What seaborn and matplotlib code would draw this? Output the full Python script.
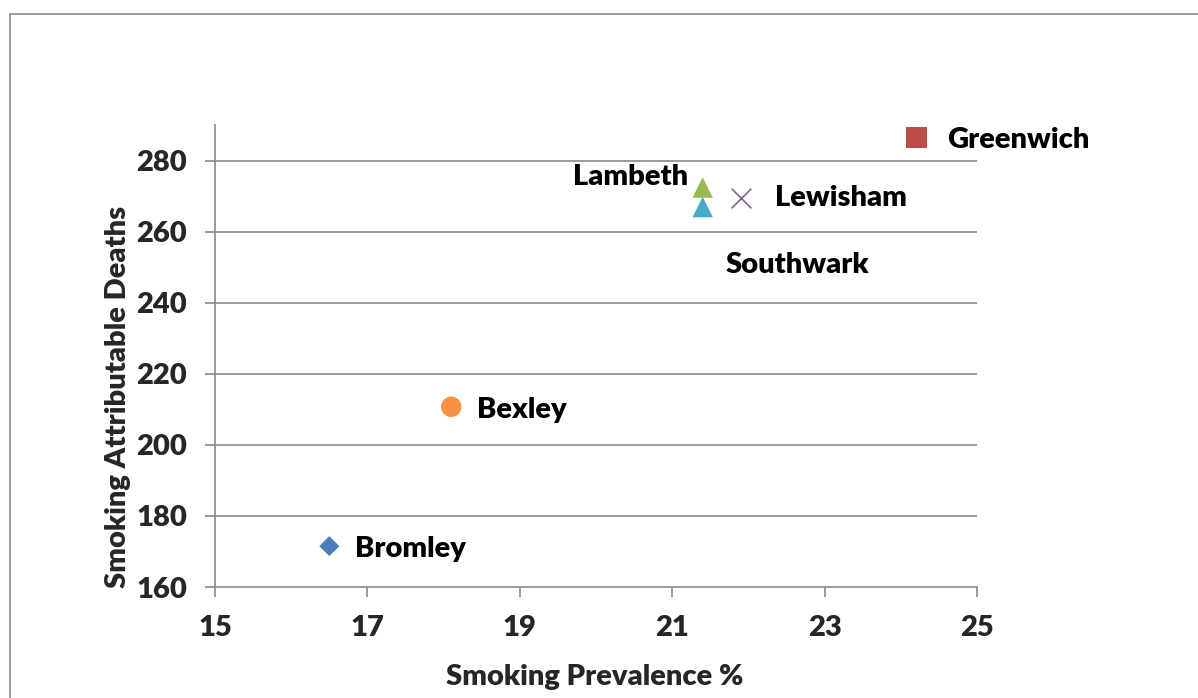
import matplotlib
matplotlib.use("Agg")
import matplotlib.pyplot as plt
from matplotlib.patches import Rectangle
import seaborn as sns
import pandas as pd

# Borough data
boroughs = ["Bromley", "Greenwich", "Lambeth", "Lewisham", "Southwark", "Bexley"]
prevalence = [16.5, 24.2, 21.4, 21.9, 21.4, 18.1]
deaths = [171.5, 286.6, 272.4, 269.4, 266.9, 210.7]

x_ticks = [15, 17, 19, 21, 23, 25]
y_ticks = [160, 180, 200, 220, 240, 260, 280]

df = pd.DataFrame({"borough": boroughs, "prevalence": prevalence, "deaths": deaths})

# Per-borough marker styling (Office palette)
styles = {
    "Bromley":   dict(marker="D", color="#4A7EBB", s=104),
    "Greenwich": dict(marker="s", color="#BE4B48", s=228),
    "Lambeth":   dict(marker="^", color="#98B954", s=216),
    "Lewisham":  dict(marker="x", color="#7D60A0", s=200),
    "Southwark": dict(marker="^", color="#46AAC5", s=216),
    "Bexley":    dict(marker="o", color="#F69240", s=216),
}
# Label offsets in pixels (dx, dy of cap-centre relative to marker) and alignment
label_pos = {
    "Bromley":   (26, 0, "left"),
    "Greenwich": (31, 0, "left"),
    "Lambeth":   (-15, 13, "right"),
    "Lewisham":  (34, 3, "left"),
    "Southwark": (23, -55, "left"),
    "Bexley":    (26, -1, "left"),
}

sns.set_theme(style="white")
plt.rcParams["font.family"] = ["Lato", "DejaVu Sans"]
plt.rcParams["font.weight"] = "heavy"

FS = 21
WEIGHT = "heavy"
GRID = "#898989"

fig = plt.figure(figsize=(11.98, 6.98), dpi=100)
fig.patch.set_facecolor("white")
ax = fig.add_axes([215 / 1198, 111 / 698, 762 / 1198, 462 / 698])

for _, row in df.iterrows():
    st = styles[row["borough"]]
    kw = dict(marker=st["marker"], color=st["color"], s=st["s"])
    if st["marker"] == "x":
        kw["linewidth"] = 1.2
    else:
        kw["edgecolor"] = "none"
    sns.scatterplot(x=[row["prevalence"]], y=[row["deaths"]], ax=ax, legend=False,
                    zorder=3, clip_on=False, **kw)
    dx, dy, ha = label_pos[row["borough"]]
    ax.annotate(row["borough"], (row["prevalence"], row["deaths"]),
                xytext=(dx, dy - 10.5), textcoords="offset pixels",
                ha=ha, va="baseline", fontsize=FS, fontweight=WEIGHT, color="black")

ax.set_xlim(15, 25)
ax.set_ylim(160, 290)
ax.set_xticks(x_ticks)
ax.set_yticks(y_ticks)
ax.set_xticklabels([str(v) for v in x_ticks])
ax.set_yticklabels([str(v) for v in y_ticks])

ax.grid(False)
for yv in y_ticks[1:]:
    ax.axhline(yv, color=GRID, lw=1.2, zorder=1)

for side in ["top", "right"]:
    ax.spines[side].set_visible(False)
for side in ["left", "bottom"]:
    ax.spines[side].set_color(GRID)
    ax.spines[side].set_linewidth(1.2)

ax.tick_params(axis="both", direction="out", length=7, width=1.2, color=GRID,
               labelsize=FS, pad=13, left=True, bottom=True)
for lab in ax.get_xticklabels() + ax.get_yticklabels():
    lab.set_fontweight(WEIGHT)

ax.set_xlabel("Smoking Prevalence %", fontsize=FS, fontweight=WEIGHT)
ax.set_ylabel("Smoking Attributable Deaths", fontsize=FS, fontweight=WEIGHT)
ax.xaxis.set_label_coords(0.498, -0.195)
ax.xaxis.label.set_va("center")
ax.yaxis.set_label_coords(-0.127, 0.412)
ax.yaxis.label.set_va("center")

# Outer chart-area border
fig.add_artist(Rectangle((9.5 / 1198, -0.1), 1.2, (698 - 14.5) / 698 + 0.1,
                         transform=fig.transFigure, fill=False,
                         edgecolor=GRID, lw=1.2, clip_on=False))

fig.savefig("out.png", dpi=100, facecolor="white")
